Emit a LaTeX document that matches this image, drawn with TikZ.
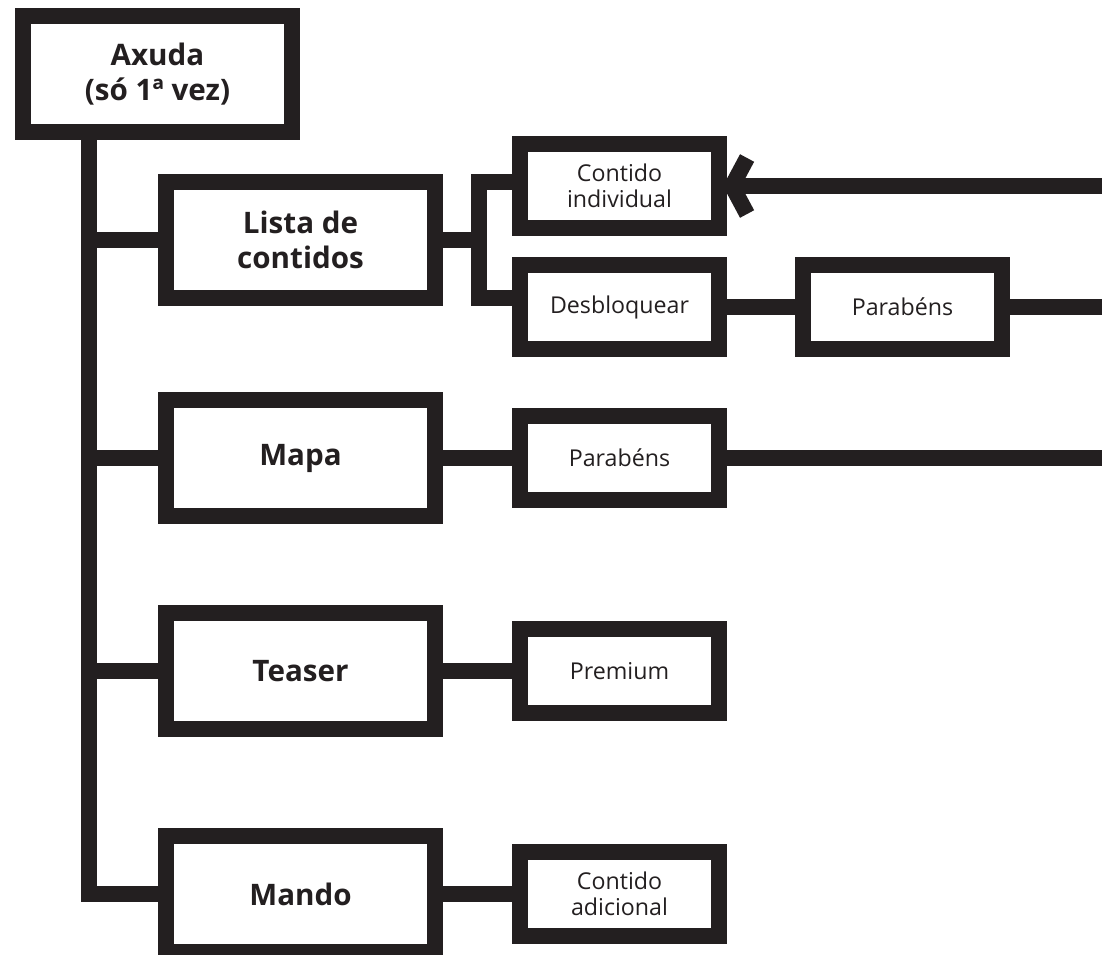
\documentclass[tikz,border=0pt]{standalone}
\usepackage{fontspec}
\setmainfont{Open Sans}
\usetikzlibrary{arrows.meta}
\definecolor{ink}{HTML}{231F20}

\begin{document}
\begin{tikzpicture}[
      x=0.5pt, y=-0.5pt,
      big/.style   = {draw=ink, line width=8pt, fill=white, text=ink,
                      minimum width=134.5pt, minimum height=58pt,
                      align=center, inner sep=0pt,
                      font=\bfseries\fontsize{14.8}{17.5}\selectfont},
      small/.style = {draw=ink, line width=8pt, fill=white, text=ink,
                      minimum width=99.5pt, minimum height=42pt,
                      align=center, inner sep=0pt,
                      font=\fontsize{11.6}{13}\selectfont},
      link/.style  = {draw=ink, line width=8pt, line join=miter},
      back/.style  = {link, -{Straight Barb[length=7.5pt, width=28pt, line cap=butt, line join=miter]}},
    ]
    \useasboundingbox (0,0) rectangle (1102,954);

    \node[big] (axuda)  at (157.5,74)  {Axuda\\(só 1ª vez)};
    \node[big] (lista)  at (300.5,240) {Lista de\\contidos};
    \node[big] (mapa)   at (300.5,458) {Mapa};
    \node[big] (teaser) at (300.5,671) {Teaser};
    \node[big] (mando)  at (300.5,894) {Mando};

    \node[small] (cind)    at (619.5,186) {Contido\\individual};
    \node[small] (desb)    at (619.5,307) {Desbloquear};
    \node[small] (parab1)  at (902.5,307) {Parabéns};
    \node[small] (parab2)  at (619.5,458) {Parabéns};
    \node[small] (premium) at (619.5,671) {Premium};
    \node[small] (cadic)   at (619.5,894) {Contido\\adicional};

    \coordinate (trunk)   at (88.5,0);
    \coordinate (forktop) at (478.5,182);
    \coordinate (forkbot) at (478.5,298);
    \coordinate (edge)    at (1115,0);

    \draw[link] (axuda.south -| trunk) |- (mando.west);
    \foreach \n in {lista,mapa,teaser}
      \draw[link] (\n.west -| trunk) -- (\n.west);

    \draw[link] (lista.east) -- (lista.east -| forktop);
    \draw[link] (cind.west |- forktop) -- (forktop) -- (forkbot) -- (desb.west |- forkbot);
    \draw[link] (desb.east) -- (parab1.west);
    \draw[link] (parab1.east) -- (parab1.east -| edge);
    \draw[back] (cind.east -| edge) -- ([xshift=-2pt]cind.east);

    \draw[link] (mapa.east) -- (parab2.west);
    \draw[link] (parab2.east) -- (parab2.east -| edge);
    \draw[link] (teaser.east) -- (premium.west);
    \draw[link] (mando.east) -- (cadic.west);
  \end{tikzpicture}
\end{document}
